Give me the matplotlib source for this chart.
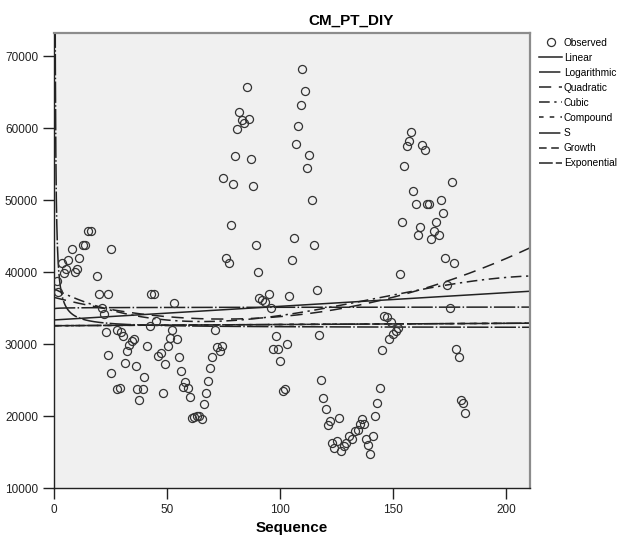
import numpy as np
import matplotlib
matplotlib.use('Agg')
import matplotlib.pyplot as plt

plt.rcParams['font.family'] = ['Liberation Sans', 'DejaVu Sans']

seq = [1.3, 1.8, 3.5, 4.4, 5.3, 6.2, 8.0, 9.3, 10.2, 11.1, 12.8, 13.7, 15.0, 16.2,
       19.0, 19.9, 21.1, 22.1, 22.9, 23.9, 23.9, 25.1, 25.2, 27.7, 28.0, 29.2, 29.5,
       30.4, 31.4, 32.2, 33.3, 34.4, 35.4, 36.1, 36.9, 37.6, 39.2, 40.0, 41.2, 42.3,
       43.1, 44.2, 45.3, 46.2, 47.3, 48.1, 49.2, 50.4, 51.3, 52.2, 53.1, 54.3, 55.3,
       56.2, 57.1, 58.2, 59.3, 60.2, 61.1, 62.1, 63.1, 64.2, 65.4, 66.4, 67.4, 68.3,
       69.2, 70.1, 71.2, 72.1, 73.5, 74.5,
       74.9, 76.1, 77.3, 78.2, 79.1, 80.1, 81.1, 82.0, 83.1, 84.2, 85.3, 86.3, 87.0,
       88.2, 89.2, 90.1, 90.8, 91.9, 93.4, 95.1, 95.9, 97.0, 98.2, 99.2, 100.0, 101.2,
       102.2, 103.2, 104.0, 105.2, 106.2,
       107.1, 108.1, 109.2, 110.0, 111.1, 112.1, 113.0, 114.0, 115.0, 116.2, 117.3,
       118.1, 119.2, 120.2, 121.1, 122.1, 123.1, 124.0, 125.1, 126.2, 127.1, 128.2,
       129.2, 130.7, 132.0, 133.2, 134.6, 135.4, 136.3, 137.3, 138.1, 139.1, 140.1,
       141.3, 142.3, 143.1, 144.1, 145.1, 146.2, 147.5, 148.2, 149.0, 150.1, 151.3,
       152.1, 153.1, 154.1, 155.1, 156.2, 157.1, 158.1, 159.1, 160.2, 161.1, 162.2,
       163.1, 164.2, 164.9, 166.1, 167.0, 168.0, 169.1, 170.2, 171.1, 172.2, 173.1,
       174.0, 175.1, 176.1, 177.1, 177.9, 179.1, 180.0, 181.0, 182.0]
obs = [38800, 37300, 41300, 39900, 40500, 41700, 43200, 40000, 40500, 42000, 43800, 43800,
       45700, 45700, 39500, 37000, 35000, 34200, 31700, 37000, 28500, 26000, 43200, 32000,
       23800, 23900, 31700, 31200, 27400, 29100, 29900, 30400, 30700, 27000, 23800, 22200,
       23800, 25500, 29800, 32500, 37000, 37000, 33200, 28400, 28800, 23200, 27300, 29800,
       30900, 32000, 35700, 30700, 28200, 26300, 24000, 24800, 23900, 22700, 19800, 19900,
       20100, 20000, 19600, 21700, 23200, 24900, 26700, 28200, 32000, 29600, 29000, 29800,
       53100, 42000, 41300, 46500, 52200, 56100, 59900, 62300, 61100, 60700, 65700, 61300,
       55700, 52000, 43800, 40000, 36400, 36200, 35800, 37000, 35000, 29400, 31100, 29400,
       27600, 23500, 23800, 30000, 36700, 41700, 44700,
       57800, 60300, 63200, 68200, 65100, 54500, 56300, 50000, 43800, 37500, 31300, 25000,
       22600, 21000, 18800, 19400, 16300, 15600, 16500, 19800, 15200, 15900, 16300, 17300,
       16800, 17900, 18100, 18900, 19600, 18900, 16900, 16000, 14800, 17300, 20000, 21800,
       23900, 29200, 33900, 33800, 30700, 33100, 31400, 31900, 32300, 39700, 47000, 54800,
       57500, 58200, 59500, 51300, 49500, 45100, 46300, 57600, 56900, 49500, 49500, 44600,
       45700, 47000, 45100, 50000, 48200, 42000, 38200, 35000, 52500, 41300, 29400, 28200,
       22200, 21900, 20400]

models = ['Linear', 'Logarithmic', 'Quadratic', 'Cubic', 'Compound', 'S', 'Growth', 'Exponential']
styles = ['-', (0, (14, 1.5, 1, 1.5)), (0, (8, 5)), (0, (7, 3, 1.5, 3)),
          (0, (3, 4)), (0, (14, 1.5, 1, 1.5)), (0, (5, 3)), (0, (9, 2))]

x = np.array(seq)
y = np.array(obs, dtype=float)
xx = np.linspace(0.05, 210.6, 3000)

# curve estimation fits
fits = {}
fits['Linear'] = np.polyval(np.polyfit(x, y, 1), xx)
b = np.polyfit(np.log(x), y, 1)
fits['Logarithmic'] = b[0] * np.log(xx) + b[1]
fits['Quadratic'] = np.polyval(np.polyfit(x, y, 2), xx)
fits['Cubic'] = np.polyval(np.polyfit(x, y, 3), xx)
b = np.polyfit(x, np.log(y), 1)
expo = np.exp(b[0] * xx + b[1])
fits['Compound'] = expo
fits['Growth'] = expo
fits['Exponential'] = expo
b = np.polyfit(1 / x, np.log(y), 1)
fits['S'] = np.exp(b[0] / xx + b[1])

fig = plt.figure(figsize=(6.24, 5.38), dpi=100)
ax = fig.add_axes([0.0865, 0.0924, 0.7625, 0.8456])
ax.set_facecolor('#f0f0f0')

ax.plot(x, y, 'o', ms=5.8, mfc='none', mec='#333333', mew=0.9, label='Observed', zorder=3)
for m, ls in zip(models, styles):
    ax.plot(xx, fits[m], color='#222222', lw=1.1, ls=ls, label=m, zorder=2)

ax.set_xlim(0, 210.6)
ax.set_ylim(10000, 73150)
ax.set_xticks([0, 50, 100, 150, 200])
ax.set_yticks(range(10000, 70001, 10000))
ax.tick_params(direction='out', length=8, width=1, labelsize=8.5, colors='#222222')
for s in ['top', 'right']:
    ax.spines[s].set_color('#8c8c8c')
    ax.spines[s].set_linewidth(1.6)
for s in ['left', 'bottom']:
    ax.spines[s].set_color('#222222')
    ax.spines[s].set_linewidth(1.0)

fig.text(0.5625, 0.961, 'CM_PT_DIY', ha='center', va='center', fontsize=11, fontweight='bold')
fig.text(0.468, 0.019, 'Sequence', ha='center', va='center', fontsize=11, fontweight='bold')

ax.legend(loc='upper left', bbox_to_anchor=(0.864, 0.93), bbox_transform=fig.transFigure,
          frameon=False, fontsize=7.3, handlelength=2.3, handletextpad=0.15,
          labelspacing=0.5, borderaxespad=0, borderpad=0)

fig.savefig('out.png', dpi=100)
